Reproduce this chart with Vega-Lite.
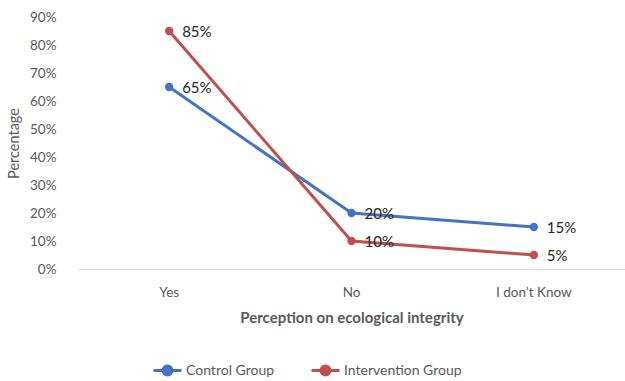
{
  "$schema": "https://vega.github.io/schema/vega-lite/v6.json",
  "autosize": "none",
  "width": 547,
  "height": 252,
  "padding": {"left": 78, "top": 17, "right": 0, "bottom": 112},
  "background": "white",
  "config": {
    "view": {"stroke": null},
    "font": "Lato"
  },
  "data": {
    "values": [
      {"category": "Yes", "group": "Control Group", "value": 0.65},
      {"category": "No", "group": "Control Group", "value": 0.20},
      {"category": "I don’t Know", "group": "Control Group", "value": 0.15},
      {"category": "Yes", "group": "Intervention Group", "value": 0.85},
      {"category": "No", "group": "Intervention Group", "value": 0.10},
      {"category": "I don’t Know", "group": "Intervention Group", "value": 0.05}
    ]
  },
  "encoding": {
    "x": {
      "field": "category",
      "type": "nominal",
      "sort": ["Yes", "No", "I don’t Know"],
      "scale": {"type": "band", "paddingInner": 0, "paddingOuter": 0},
      "axis": {
        "title": "Perception on ecological integrity",
        "titleFont": "Lato",
        "titleFontSize": 15,
        "titleFontWeight": "bold",
        "titleColor": "#595959",
        "titlePadding": 12,
        "labelAngle": 0,
        "labelFontSize": 13.5,
        "labelColor": "#595959",
        "labelPadding": 16,
        "ticks": false,
        "domainColor": "#d9d9d9",
        "domainWidth": 1
      }
    },
    "y": {
      "field": "value",
      "type": "quantitative",
      "scale": {"domain": [0, 0.9]},
      "axis": {
        "title": "Percentage",
        "titleFont": "Lato",
        "titleFontSize": 14.5,
        "titleFontWeight": "normal",
        "titleColor": "#595959",
        "titlePadding": 8,
        "format": ".0%",
        "values": [0, 0.1, 0.2, 0.3, 0.4, 0.5, 0.6, 0.7, 0.8, 0.9],
        "labelOverlap": false,
        "labelFontSize": 13.5,
        "labelColor": "#595959",
        "labelPadding": 22,
        "ticks": false,
        "domain": false,
        "grid": false
      }
    },
    "color": {
      "field": "group",
      "type": "nominal",
      "scale": {"domain": ["Control Group", "Intervention Group"], "range": ["#4472C4", "#C0504D"]},
      "legend": {
        "title": null,
        "orient": "none",
        "legendX": 74,
        "legendY": 338,
        "direction": "horizontal",
        "labelFontSize": 14,
        "labelColor": "#595959",
        "symbolType": "M-1,0H1M-0.32,0A0.32,0.32 0 1,1 0.32,0A0.32,0.32 0 1,1 -0.32,0Z",
        "symbolSize": 784,
        "symbolStrokeWidth": 3,
        "columnPadding": 30,
        "labelOffset": 3,
        "encode": {
          "symbols": {"update": {"fill": {"scale": "color", "field": "value"}, "fillOpacity": {"value": 1}}}
        }
      }
    }
  },
  "layer": [
    {
      "mark": {"type": "line", "strokeWidth": 3, "point": {"filled": true, "size": 70, "opacity": 1}}
    },
    {
      "mark": {"type": "text", "align": "left", "baseline": "middle", "dx": 13, "dy": 1, "fontSize": 15, "font": "Lato", "color": "#262626"},
      "encoding": {
        "text": {"field": "value", "type": "quantitative", "format": ".0%"},
        "color": {"value": "#262626"}
      }
    }
  ]
}
